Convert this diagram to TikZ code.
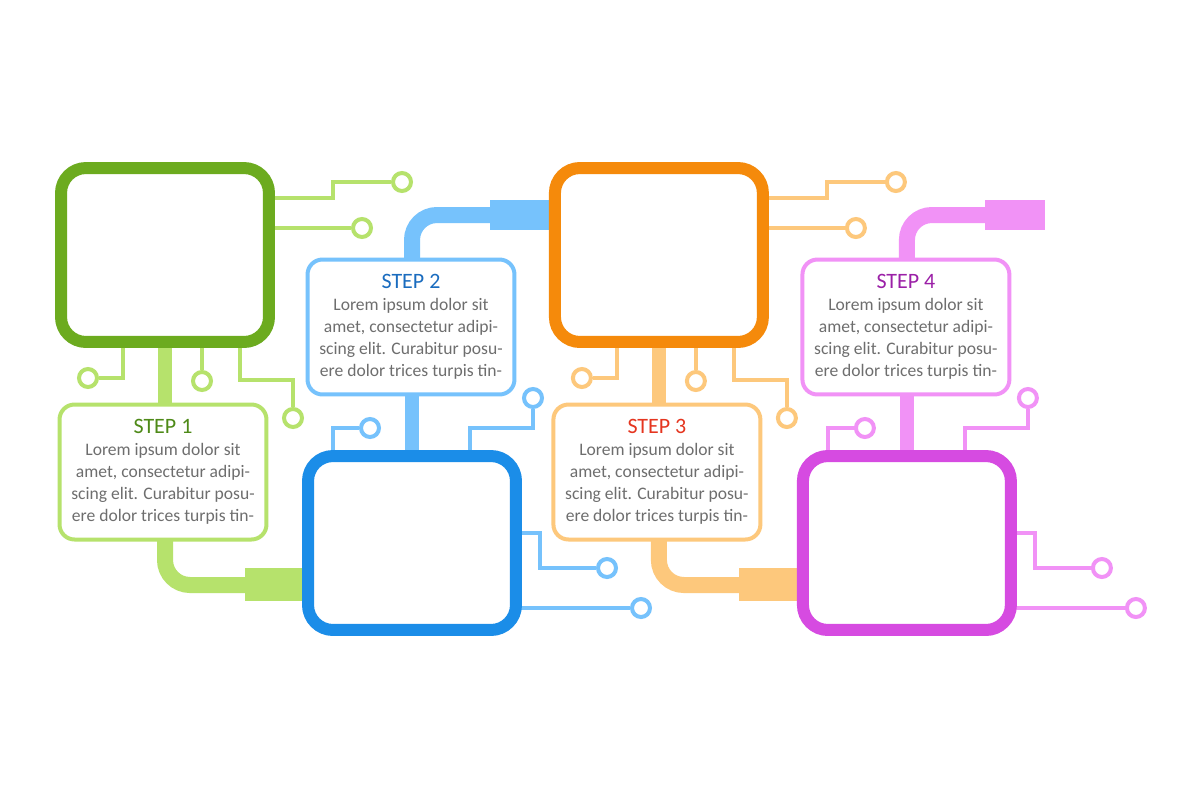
\documentclass[tikz,border=0pt]{standalone}
\usepackage{fontspec}
\setmainfont{Carlito}
\usepackage{tikz}

\definecolor{grnD}{HTML}{6CAB1F}\definecolor{grnL}{HTML}{B6E26C}\definecolor{grnT}{HTML}{4E8A18}
\definecolor{bluD}{HTML}{1B8DE8}\definecolor{bluL}{HTML}{76C2FC}\definecolor{bluT}{HTML}{1A6CBF}
\definecolor{orgD}{HTML}{F58A0B}\definecolor{orgL}{HTML}{FDC87C}\definecolor{orgT}{HTML}{E5351F}
\definecolor{purD}{HTML}{D64BE1}\definecolor{purL}{HTML}{F192F6}\definecolor{purT}{HTML}{9B20A7}
\definecolor{bodyT}{HTML}{6E6E6E}

\tikzset{
  big box/.style={draw=#1,line width=0.24cm,rounded corners=0.5cm,fill=white,
                  minimum width=4.16cm,minimum height=3.48cm},
  text box/.style={draw=#1,line width=0.08cm,rounded corners=0.3cm,fill=white,
                   minimum width=4.14cm,minimum height=2.7cm},
  step text/.style={align=center,text=bodyT,font=\fontsize{10}{12.5}\selectfont},
  wire/.style={draw=#1,line width=0.08cm},
  pad/.style={circle,draw=#1,line width=0.08cm,fill=white,minimum size=0.36cm,inner sep=0pt},
  pipe/.style={draw=#1,line width=0.32cm,rounded corners=0.5cm},
}

% upper block: frame on top, text below
\newcommand{\upperblock}[6]{%
  \begin{scope}[xshift=#2]
    \draw[pipe=#4] (165,530) |- (250,585);
    \fill[#4] (245,568) rectangle (305,601);
    \draw[line width=0.28cm,#4] (165,340) -- (165,406);
    \node[pad=#4] (#1p1) at (88,378) {};
    \node[pad=#4] (#1p2) at (202,381) {};
    \node[pad=#4] (#1p3) at (293,418) {};
    \node[pad=#4] (#1p4) at (402,182) {};
    \node[pad=#4] (#1p5) at (362,228) {};
    \draw[wire=#4] (123,340) |- (#1p1);
    \draw[wire=#4] (202,340) -- (#1p2);
    \draw[wire=#4] (240,340) |- (293,380) -- (#1p3);
    \draw[wire=#4] (265,198) -| (333,182) -- (#1p4);
    \draw[wire=#4] (265,228) -- (#1p5);
    \node[big box=#3] (#1big) at (165,255) {};
    \node[text box=#4] (#1txt) at (163,472) {};
    \node[step text] at (#1txt.center) {{\fontsize{12.5}{14}\selectfont\color{#5}#6}\\
      Lorem ipsum dolor sit\\amet, consectetur adipi-\\scing elit. Curabitur posu-\\ere dolor trices turpis tin-};
  \end{scope}}

% lower block: text on top, frame below
\newcommand{\lowerblock}[6]{%
  \begin{scope}[xshift=#2]
    \draw[pipe=#4] (412,270) |- (495,215);
    \fill[#4] (490,200) rectangle (550,230);
    \draw[line width=0.28cm,#4] (412,395) -- (412,452);
    \node[pad=#4] (#1p1) at (370,428) {};
    \node[pad=#4] (#1p2) at (533,398) {};
    \node[pad=#4] (#1p3) at (607,568) {};
    \node[pad=#4] (#1p4) at (641,608) {};
    \draw[wire=#4] (333,455) |- (#1p1);
    \draw[wire=#4] (470,455) |- (533,428) -- (#1p2);
    \draw[wire=#4] (515,533) -| (540,568) -- (#1p3);
    \draw[wire=#4] (515,608) -- (#1p4);
    \node[big box=#3] (#1big) at (412,543) {};
    \node[text box=#4] (#1txt) at (411,327) {};
    \node[step text] at (#1txt.center) {{\fontsize{12.5}{14}\selectfont\color{#5}#6}\\
      Lorem ipsum dolor sit\\amet, consectetur adipi-\\scing elit. Curabitur posu-\\ere dolor trices turpis tin-};
  \end{scope}}

\begin{document}
\begin{tikzpicture}[x=0.02cm,y=-0.02cm]
  \useasboundingbox[fill=white] (0,0) rectangle (1200,799);

  \upperblock{one}{0cm}{grnD}{grnL}{grnT}{STEP 1}
  \lowerblock{two}{0cm}{bluD}{bluL}{bluT}{STEP 2}
  \upperblock{three}{9.88cm}{orgD}{orgL}{orgT}{STEP 3}
  \lowerblock{four}{9.9cm}{purD}{purL}{purT}{STEP 4}
\end{tikzpicture}
\end{document}
